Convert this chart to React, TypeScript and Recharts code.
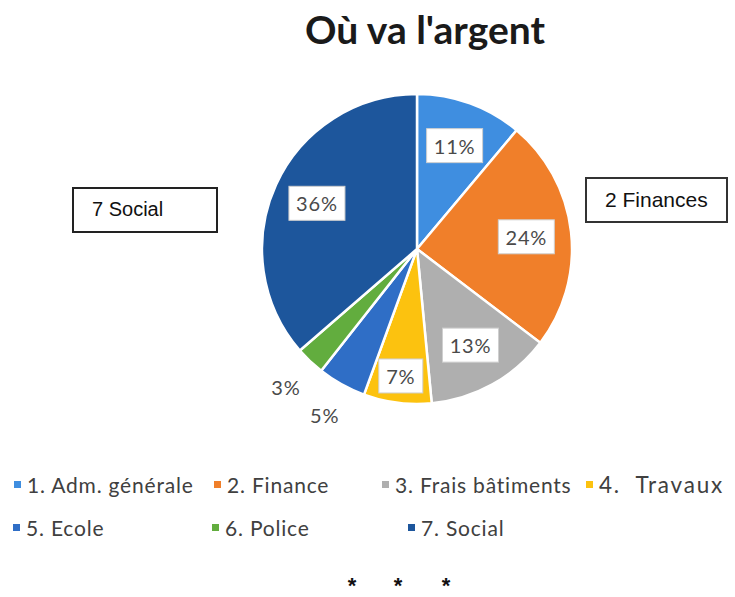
import React from 'react';
import { PieChart, Pie, Cell, Legend } from 'recharts';

const categories = ['1. Adm. générale', '2. Finance', '3. Frais bâtiments', '4.  Travaux', '5. Ecole', '6. Police', '7. Social'];
const values = [11, 24, 13, 7, 5, 3, 36];
const colors = ['#3f8ee0', '#f07f2a', '#afafaf', '#fcc20f', '#2f6ec6', '#62ad3e', '#1d569c'];
const title = "Où va l'argent";
const calloutLeft = '7 Social';
const calloutRight = '2 Finances';

const data = categories.map((name, i) => ({ name, value: values[i] }));

const RAD = Math.PI / 180;
const FONT = 'Lato, "Open Sans", sans-serif';

const renderLabel = (props: any) => {
  const { cx, cy, midAngle, index, value } = props;
  const text = `${value}%`;
  const outside = value < 6;
  let r = 110;
  if (outside) r = 190;
  else if (value < 10) r = 128;
  const x = cx + r * Math.cos(-midAngle * RAD);
  const y = cy + r * Math.sin(-midAngle * RAD);
  const w = text.length * 12 + 20;
  const h = 34;
  return (
    <g key={`lbl-${index}`}>
      {!outside && (
        <rect x={x - w / 2} y={y - h / 2} width={w} height={h} fill="#ffffff" stroke="#cfcfcf" strokeWidth={1} />
      )}
      <text x={x} y={y} textAnchor="middle" dominantBaseline="central" fill="#4a4a4a" fontSize={20} letterSpacing={0.8} fontFamily={FONT}>
        {text}
      </text>
    </g>
  );
};

const legendPos = [
  { left: 14, top: 472 },
  { left: 214, top: 472 },
  { left: 382, top: 472 },
  { left: 586, top: 471 },
  { left: 13, top: 515 },
  { left: 212, top: 515 },
  { left: 408, top: 515 },
];

const renderLegend = () => (
  <div style={{ position: 'relative', width: 735, height: 90 }}>
    {categories.map((c, i) => (
      <div
        key={c}
        style={{
          position: 'absolute',
          left: legendPos[i].left,
          top: legendPos[i].top - 465,
          display: 'flex',
          alignItems: 'center',
          fontFamily: FONT,
          fontSize: i === 3 ? 22.5 : 21,
          letterSpacing: i === 3 ? 1.8 : 0.8,
          color: '#404040',
          whiteSpace: 'pre',
        }}
      >
        <span style={{ display: 'inline-block', width: 7, height: 7, background: colors[i], marginRight: 6 }} />
        <span>{c}</span>
      </div>
    ))}
  </div>
);

export default function App() {
  return (
    <div style={{ position: 'absolute', left: 0, top: 0, width: 735, height: 597, background: '#ffffff' }}>
      <PieChart width={735} height={597} margin={{ top: 0, right: 0, bottom: 0, left: 0 }}>
        <Pie
          data={data}
          dataKey="value"
          nameKey="name"
          cx={417}
          cy={249}
          outerRadius={155}
          startAngle={90}
          endAngle={-270}
          stroke="#ffffff"
          strokeWidth={2.5}
          label={renderLabel}
          labelLine={false}
          isAnimationActive={false}
        >
          {data.map((d, i) => (
            <Cell key={d.name} fill={colors[i]} />
          ))}
        </Pie>
        <Legend content={renderLegend} wrapperStyle={{ position: 'absolute', left: 0, top: 465, width: 735 }} />
      </PieChart>
      <div
        style={{
          position: 'absolute',
          left: 305,
          top: 6,
          whiteSpace: 'pre',
          fontFamily: FONT,
          fontWeight: 700,
          fontSize: 39,
          color: '#1a1a1a',
        }}
      >
        {title}
      </div>
      <div
        style={{
          position: 'absolute',
          left: 72,
          top: 187,
          width: 146,
          height: 46,
          border: '2px solid #222',
          boxSizing: 'border-box',
          fontFamily: 'Arial, "Liberation Sans", sans-serif',
          fontSize: 20,
          color: '#111',
          paddingLeft: 18,
          lineHeight: '40px',
        }}
      >
        {calloutLeft}
      </div>
      <div
        style={{
          position: 'absolute',
          left: 585,
          top: 177,
          width: 143,
          height: 46,
          border: '2px solid #333',
          boxSizing: 'border-box',
          fontFamily: 'Arial, "Liberation Sans", sans-serif',
          fontSize: 21,
          color: '#111',
          paddingLeft: 18,
          lineHeight: '41px',
          whiteSpace: 'pre',
        }}
      >
        {calloutRight}
      </div>
      {[352, 398, 446].map((x) => (
        <div
          key={x}
          style={{
            position: 'absolute',
            left: x - 8,
            top: 578,
            width: 16,
            height: 16,
            textAlign: 'center',
            fontFamily: 'Arial, "Liberation Sans", sans-serif',
            fontWeight: 700,
            fontSize: 22,
            color: '#111',
            lineHeight: '16px',
          }}
        >
          *
        </div>
      ))}
    </div>
  );
}
